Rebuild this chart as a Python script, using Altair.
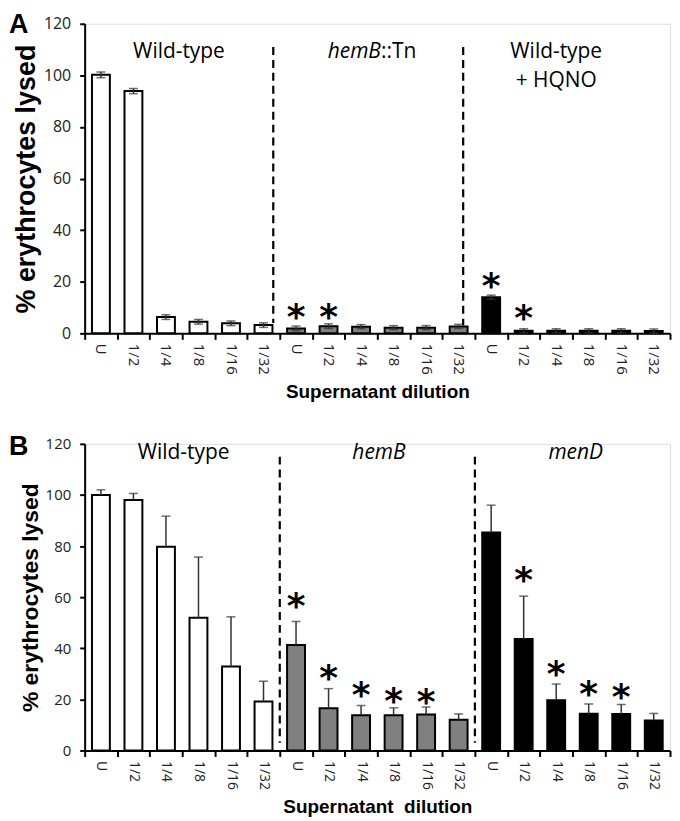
import altair as alt
import pandas as pd

dilutions = ["U", "1/2", "1/4", "1/8", "1/16", "1/32"]

# ---------- Panel A ----------
groups_a = ["Wild-type", "hemB::Tn", "Wild-type + HQNO"]
fills_a = ["white", "#808080", "black"]
a_wt = [100.2, 93.9, 6.3, 4.5, 3.9, 3.2]
a_wt_err = [1.1, 1.0, 0.9, 0.9, 0.9, 0.9]
a_hemb = [1.9, 2.8, 2.6, 2.2, 2.2, 2.7]
a_hemb_err = [0.9, 0.9, 0.8, 0.8, 0.8, 0.8]
a_hqno = [14.0, 1.0, 1.0, 1.0, 1.0, 0.9]
a_hqno_err = [0.8, 0.8, 0.8, 0.8, 0.8, 0.8]
a_star_wt = [None, None, None, None, None, None]
a_star_hemb = [9.4, 9.4, None, None, None, None]
a_star_hqno = [21.6, 9.1, None, None, None, None]

# ---------- Panel B ----------
groups_b = ["Wild-type", "hemB", "menD"]
fills_b = ["white", "#808080", "black"]
b_wt = [100.0, 98.0, 79.7, 51.9, 32.9, 19.2]
b_wt_err = [2.0, 2.6, 12.0, 23.8, 19.4, 7.9]
b_hemb = [41.3, 16.5, 13.8, 13.8, 14.1, 12.0]
b_hemb_err = [9.2, 7.7, 3.8, 2.9, 2.9, 2.3]
b_mend = [85.3, 43.6, 19.7, 14.4, 14.3, 11.7]
b_mend_err = [10.7, 16.8, 6.3, 3.8, 3.7, 2.8]
b_star_wt = [None, None, None, None, None, None]
b_star_hemb = [59.7, 31.4, 24.7, 22.3, 22.0, None]
b_star_mend = [None, 70.0, 33.0, 25.3, 24.0, None]

y_ticks = [0, 20, 40, 60, 80, 100, 120]

LABEL_FONT = "Open Sans"
TITLE_FONT = "Liberation Sans"


def make_df(groups, series, errs, stars):
    rows = []
    for g, vals, es, ss in zip(groups, series, errs, stars):
        for d, v, e, s in zip(dilutions, vals, es, ss):
            rows.append(dict(key=f"{g}|{d}", group=g, dil=d, value=v, err=e,
                             lo=v - e, hi=v + e, star=s))
    return pd.DataFrame(rows)


df_a = make_df(groups_a, [a_wt, a_hemb, a_hqno], [a_wt_err, a_hemb_err, a_hqno_err],
               [a_star_wt, a_star_hemb, a_star_hqno])
df_b = make_df(groups_b, [b_wt, b_hemb, b_mend], [b_wt_err, b_hemb_err, b_mend_err],
               [b_star_wt, b_star_hemb, b_star_mend])


def panel(df, groups, fills, two_sided, width, height, ytitle_size, ylabel_size,
          xlabel_size, xtitle, dividers, labels, letter, letter_y):
    keys = list(df["key"])
    x_axis = alt.Axis(
        labelExpr="split(datum.label, '|')[1]", labelAngle=90, labelFont=LABEL_FONT,
        labelFontSize=xlabel_size, labelColor="#222", labelPadding=4,
        tickBand="extent", tickSize=6, tickWidth=2, tickColor="black",
        domainWidth=2, domainColor="black", title=xtitle, titleFont=TITLE_FONT,
        titleFontSize=19, titleFontWeight="bold", titleColor="black", titlePadding=8,
    )
    y_axis = alt.Axis(
        values=y_ticks, grid=False, tickSize=5, tickWidth=2, tickColor="black",
        domainWidth=2, domainColor="black", labelFont=LABEL_FONT,
        labelFontSize=ylabel_size, labelColor="#222", labelPadding=9,
        title="% erythrocytes lysed", titleFont=TITLE_FONT, titleFontSize=ytitle_size,
        titleFontWeight="bold", titleColor="black", titlePadding=3,
    )
    xscale = alt.Scale(domain=keys, paddingInner=0, paddingOuter=0)
    yscale = alt.Scale(domain=[0, 120], nice=False)

    def X(bp=None):
        if bp is None:
            return alt.X("key:N", sort=keys, scale=xscale, axis=x_axis)
        return alt.X("key:N", sort=keys, scale=xscale, axis=x_axis, bandPosition=bp)

    def Y(field):
        return alt.Y(f"{field}:Q", scale=yscale, axis=y_axis)

    base = alt.Chart(df)
    layers = []
    for key, bp, top, bottom in dividers:
        layers.append(
            alt.Chart(pd.DataFrame({"key": [key], "top": [top], "bottom": [bottom]}))
            .mark_rule(color="black", strokeWidth=2.2, strokeDash=[8, 5])
            .encode(x=X(bp), y=Y("top"), y2="bottom:Q")
        )
    bars = base.mark_bar(width=alt.RelativeBandSize(0.55), stroke="black",
                         strokeWidth=2).encode(
        x=X(), y=Y("value"),
        fill=alt.Fill("group:N", scale=alt.Scale(domain=groups, range=fills), legend=None),
    )
    layers.append(bars)
    low = "lo" if two_sided else "value"
    layers.append(base.mark_rule(color="#333", strokeWidth=1.5).encode(
        x=X(), y=Y(low), y2="hi:Q"))
    layers.append(base.mark_tick(color="#333", thickness=1.5, size=9).encode(
        x=X(), y=Y("hi")))
    if two_sided:
        layers.append(base.mark_tick(color="#333", thickness=1.5, size=9).encode(
            x=X(), y=Y("lo")))
    layers.append(
        base.transform_filter("isValid(datum.star)")
        .mark_text(text="*", font="DejaVu Sans", fontWeight="bold", fontSize=36,
                   baseline="alphabetic", dy=20, color="black")
        .encode(x=X(), y=Y("star"))
    )
    for text, key, bp, yv, align, italic in labels:
        layers.append(
            alt.Chart(pd.DataFrame({"key": [key], "t": [text], "y": [yv]}))
            .mark_text(font=LABEL_FONT, fontSize=21, align=align, baseline="middle",
                       fontStyle="italic" if italic else "normal", color="black",
                       lineBreak="\n", lineHeight=29)
            .encode(x=X(bp), y=Y("y"), text="t:N")
        )
    layers.append(
        alt.Chart(pd.DataFrame({"t": [letter]}))
        .mark_text(font=TITLE_FONT, fontWeight="bold", fontSize=27, align="left",
                   baseline="top", color="black")
        .encode(text="t:N", x=alt.value(-76), y=alt.value(letter_y))
    )
    return alt.layer(*layers).properties(width=width, height=height)


dividers_a = [("Wild-type|1/32", 0.8, 111, 4), ("hemB::Tn|1/32", 0.64, 111, 3)]
labels_a = [
    ("Wild-type", "Wild-type|1/4", 0.9, 109, "center", False),
    ("hemB", "hemB::Tn|1/8", 0.11, 109, "right", True),
    ("::Tn", "hemB::Tn|1/8", 0.11, 109, "left", False),
    ("Wild-type\n+ HQNO", "Wild-type + HQNO|1/4", 0.5, 109, "center", False),
]
dividers_b = [("Wild-type|1/32", 1.0, 115, 3), ("hemB|1/32", 1.0, 115, 3)]
labels_b = [
    ("Wild-type", "Wild-type|1/8", 0.04, 116.5, "center", False),
    ("hemB", "hemB|1/8", 0.05, 116.5, "center", True),
    ("menD", "menD|1/8", 0.1, 116.5, "center", True),
]

panel_a = panel(df_a, groups_a, fills_a, True, 588, 311, 27, 16, 15,
                "Supernatant dilution", dividers_a, labels_a, "A", -12)
panel_b = panel(df_b, groups_b, fills_b, False, 588, 308, 23, 15, 14,
                "Supernatant\u00a0 dilution", dividers_b, labels_b, "B", -10)

chart = alt.vconcat(panel_a, panel_b, spacing=30).resolve_scale(
    fill="independent", x="independent"
).properties(
    padding={"left": 0, "top": 0, "right": 0, "bottom": 0}
).configure_view(stroke=None).configure(background="white")

chart.save("out.html", embed_options={"renderer": "svg", "actions": False})
